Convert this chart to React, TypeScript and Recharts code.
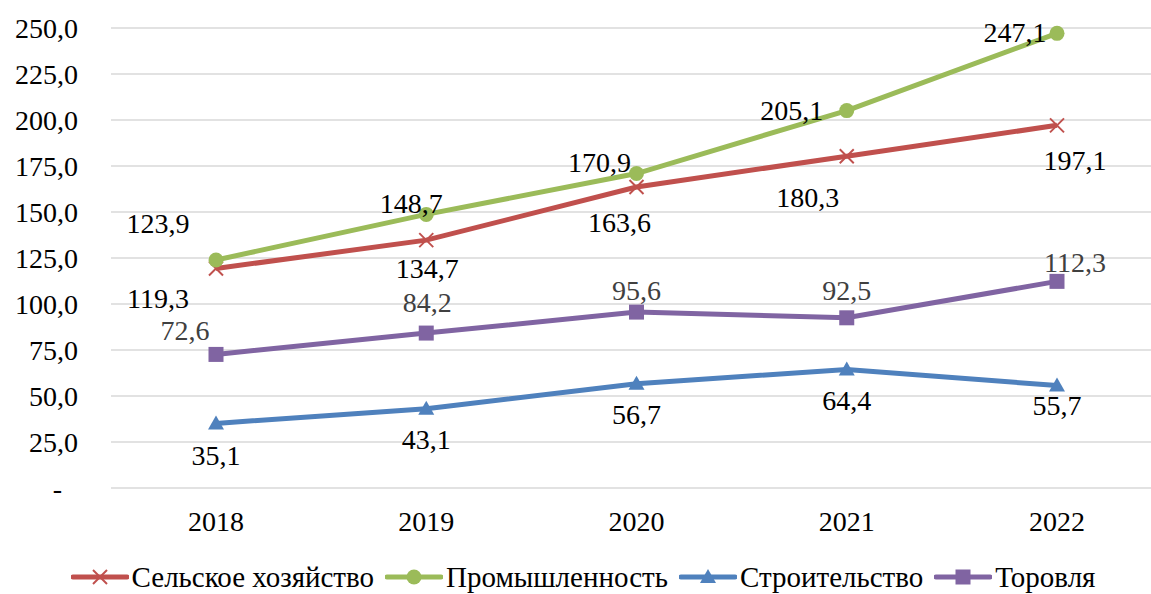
import { LineChart, Line, XAxis, YAxis, CartesianGrid } from 'recharts';

const years = ['2018', '2019', '2020', '2021', '2022'];
const agriculture = [119.3, 134.7, 163.6, 180.3, 197.1];
const industry = [123.9, 148.7, 170.9, 205.1, 247.1];
const construction = [35.1, 43.1, 56.7, 64.4, 55.7];
const trade = [72.6, 84.2, 95.6, 92.5, 112.3];
const yTicks = [0, 25, 50, 75, 100, 125, 150, 175, 200, 225, 250];

const data = years.map((year, i) => ({
  year,
  agriculture: agriculture[i],
  industry: industry[i],
  construction: construction[i],
  trade: trade[i],
}));

// label placement (dx, dy from the point)
const labelOffsets: Record<string, [number, number][]> = {
  agriculture: [[-58, 30], [1, 28], [-17, 35], [-39, 41], [18, 35]],
  industry: [[-58, -37], [-15, -11], [-37, -11], [-55, 0], [-42, -1]],
  construction: [[0, 32], [0, 31], [0, 31], [0, 31], [0, 20]],
  trade: [[-31, -24], [1, -31], [0, -22], [0, -28], [18, -19]],
};

const FONT = 'Liberation Serif, Tinos, serif';
const FS = 28;

const fmt = (v: number) => (v === 0 ? '-' : v.toFixed(1).replace('.', ','));

type MarkerKind = 'cross' | 'circle' | 'triangle' | 'square';

const Marker = ({ kind, cx, cy, color }: { kind: MarkerKind; cx: number; cy: number; color: string }) => {
  if (kind === 'cross') {
    return (
      <g stroke={color} strokeWidth={2}>
        <line x1={cx - 7} y1={cy - 7} x2={cx + 7} y2={cy + 7} />
        <line x1={cx - 7} y1={cy + 7} x2={cx + 7} y2={cy - 7} />
      </g>
    );
  }
  if (kind === 'circle') return <circle cx={cx} cy={cy} r={7.5} fill={color} />;
  if (kind === 'triangle')
    return <polygon points={`${cx},${cy - 8} ${cx + 8},${cy + 6} ${cx - 8},${cy + 6}`} fill={color} />;
  return <rect x={cx - 7.5} y={cy - 7.5} width={15} height={15} fill={color} />;
};

const series: { key: string; name: string; color: string; marker: MarkerKind; labelColor: string }[] = [
  { key: 'agriculture', name: 'Сельское хозяйство', color: '#C0504D', marker: 'cross', labelColor: '#000' },
  { key: 'industry', name: 'Промышленность', color: '#9BBB59', marker: 'circle', labelColor: '#000' },
  { key: 'construction', name: 'Строительство', color: '#4F81BD', marker: 'triangle', labelColor: '#000' },
  { key: 'trade', name: 'Торовля', color: '#8064A2', marker: 'square', labelColor: '#404040' },
];

// y tick: Excel accounting style puts the zero dash a digit left of the right edge
const YTick = (p: any) => {
  const v = p.payload.value;
  return (
    <text x={p.x - (v === 0 ? 16 : 0)} y={p.y} dy="0.355em" textAnchor="end" fontFamily={FONT} fontSize={FS} fill="#000">
      {fmt(v)}
    </text>
  );
};

const LegendRow = () => (
  <div
    style={{
      height: 34,
      display: 'flex',
      justifyContent: 'center',
      alignItems: 'center',
      fontSize: 29,
      color: '#000',
      paddingLeft: 26,
    }}
  >
    {series.map((s) => (
      <div key={s.key} style={{ display: 'flex', alignItems: 'center', marginRight: 11 }}>
        <svg width={58} height={20} style={{ marginRight: 3 }}>
          <line x1={2} y1={10} x2={56} y2={10} stroke={s.color} strokeWidth={5} strokeLinecap="round" />
          <Marker kind={s.marker} cx={29} cy={10} color={s.color} />
        </svg>
        <span style={{ whiteSpace: 'nowrap' }}>{s.name}</span>
      </div>
    ))}
  </div>
);

export default function App() {
  return (
    <div style={{ position: 'absolute', left: 0, top: 0, width: 1151, height: 594, fontFamily: FONT }}>
      <LineChart width={1151} height={560} data={data} margin={{ top: 28, right: 0, left: 0, bottom: 0 }}>
        <CartesianGrid vertical={false} stroke="#D9D9D9" strokeWidth={1.5} />
        <XAxis
          dataKey="year"
          axisLine={false}
          tickLine={false}
          height={72}
          tickMargin={17}
          padding={{ left: 105, right: 94 }}
          tick={{ fill: '#000', fontSize: FS, fontFamily: FONT }}
        />
        <YAxis
          domain={[0, 250]}
          ticks={yTicks}
          width={111}
          axisLine={false}
          tickLine={false}
          tickMargin={27}
          tick={<YTick />}
        />
        {series.map((s) => (
          <Line
            key={s.key}
            dataKey={s.key}
            name={s.name}
            stroke={s.color}
            strokeWidth={5}
            isAnimationActive={false}
            dot={(p: any) => <Marker key={`${s.key}-${p.index}`} kind={s.marker} cx={p.cx} cy={p.cy} color={s.color} />}
            activeDot={false}
            label={(p: any) => {
              const [dx, dy] = labelOffsets[s.key][p.index];
              return (
                <text
                  key={`${s.key}-l-${p.index}`}
                  x={p.x + dx}
                  y={p.y + dy}
                  dy="0.35em"
                  textAnchor="middle"
                  fontFamily={FONT}
                  fontSize={FS}
                  fill={s.labelColor}
                >
                  {fmt(p.value)}
                </text>
              );
            }}
          />
        ))}
      </LineChart>
      <LegendRow />
    </div>
  );
}
